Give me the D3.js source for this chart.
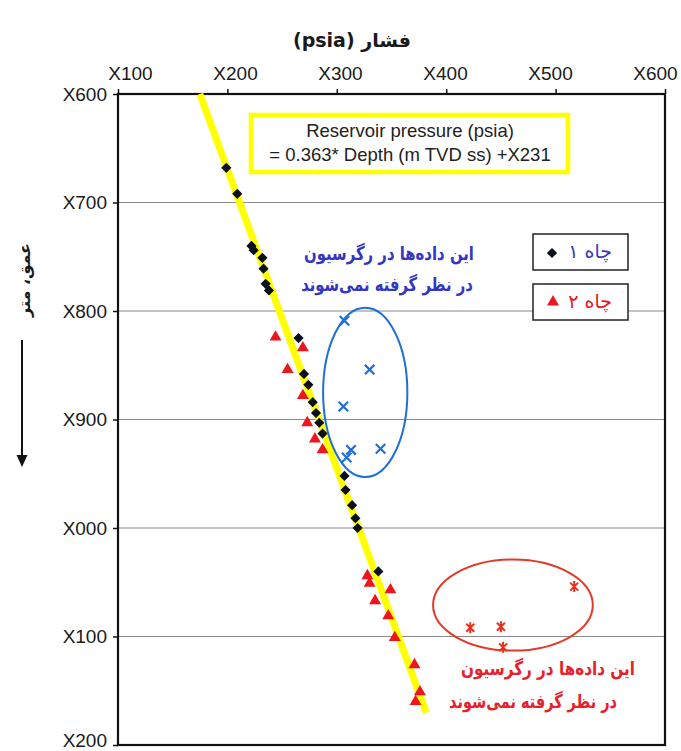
<!DOCTYPE html>
<html>
<head>
<meta charset="utf-8">
<script src="https://cdn.jsdelivr.net/npm/d3@7"></script>
<style>
  html, body { margin: 0; padding: 0; background: #fff; }
  svg { display: block; }
</style>
</head>
<body>
<svg id="chart" width="681" height="751"></svg>
<script>
// Axis ticks: pressure (psia) across the top, depth (m TVD ss) down the side
const pressureTicks = [3100, 3200, 3300, 3400, 3500, 3600];
const depthTicks = [2600, 2700, 2800, 2900, 3000, 3100, 3200];

// Well 1 (black diamonds)
const well1Pressure = [3199, 3209, 3222, 3224, 3232, 3233, 3235, 3238, 3265, 3270, 3274, 3278, 3281, 3284, 3287, 3307, 3308, 3314, 3317, 3319, 3338];
const well1Depth    = [2668, 2692, 2740, 2744, 2751, 2761, 2775, 2781, 2825, 2858, 2868, 2884, 2894, 2903, 2913, 2952, 2965, 2979, 2991, 3000, 3040];

// Well 2 (red triangles)
const well2Pressure = [3244, 3269, 3255, 3269, 3273, 3280, 3287, 3328, 3330, 3349, 3335, 3347, 3353, 3371, 3376, 3372];
const well2Depth    = [2824, 2834, 2854, 2878, 2903, 2918, 2928, 3044, 3051, 3057, 3067, 3081, 3101, 3126, 3151, 3160];

// Points left out of the regression
const outlier1Pressure = [3307, 3330, 3306, 3313, 3340, 3309];
const outlier1Depth    = [2809, 2854, 2888, 2928, 2927, 2935];
const outlier2Pressure = [3517, 3422, 3450, 3452];
const outlier2Depth    = [3054, 3092, 3091, 3110];

// Regression: pressure = 0.363 * depth + 2231
const slope = 0.363;
const intercept = 2231;
const fitDepthRange = [2600, 3170];

// Ellipses around the excluded groups: [centre pressure, centre depth, half-width psi, half-height m]
const ellipse1 = [3326, 2875, 38.5, 78];
const ellipse2 = [3461, 3071, 73, 42];

const fmt = v => "X" + String(v % 1000).padStart(3, "0");

const svg = d3.select("#chart");
const L = 118, R = 665, T = 94, B = 745;

const x = d3.scaleLinear().domain([3100, 3600]).range([L, R]);
const y = d3.scaleLinear().domain([2600, 3200]).range([T, B]);

// Horizontal grid lines
svg.append("g")
  .selectAll("line")
  .data(depthTicks.slice(1, -1))
  .join("line")
  .attr("x1", L).attr("x2", R)
  .attr("y1", d => y(d)).attr("y2", d => y(d))
  .attr("stroke", "#8a8a8a").attr("stroke-width", 1.2);

// Axes
const tickFont = "'Liberation Sans', Arial, sans-serif";
const topAxis = d3.axisTop(x).tickValues(pressureTicks).tickFormat(fmt).tickSize(5).tickPadding(9);
const gTop = svg.append("g").attr("transform", `translate(0,${T})`).call(topAxis);
const leftAxis = d3.axisLeft(y).tickValues(depthTicks).tickFormat(fmt).tickSize(5).tickPadding(6);
const gLeft = svg.append("g").attr("transform", `translate(${L},0)`).call(leftAxis);
[gTop, gLeft].forEach(g => {
  g.select(".domain").remove();
  g.selectAll(".tick line").attr("stroke", "#111").attr("stroke-width", 1.5);
  g.selectAll(".tick text")
    .attr("fill", "#1a1a1a")
    .style("font-family", tickFont)
    .style("font-size", "19px");
});
// top labels sit slightly inward from the frame corners
gTop.selectAll(".tick text").attr("dx", (d, i) => 12 - i * 4.4);
gLeft.selectAll(".tick text").attr("dy", (d, i, n) => i === n.length - 1 ? "0.1em" : "0.34em");

// Plot frame
svg.append("rect")
  .attr("x", L).attr("y", T).attr("width", R - L).attr("height", B - T)
  .attr("fill", "none").attr("stroke", "#111").attr("stroke-width", 2.2);

// Regression line
svg.append("line")
  .attr("x1", x(slope * fitDepthRange[0] + intercept)).attr("y1", y(fitDepthRange[0]))
  .attr("x2", x(slope * fitDepthRange[1] + intercept)).attr("y2", y(fitDepthRange[1]))
  .attr("stroke", "#ffff00").attr("stroke-width", 7).attr("stroke-linecap", "butt");

// Equation box
const eq = svg.append("g");
eq.append("rect")
  .attr("x", 251).attr("y", 115).attr("width", 317).attr("height", 57)
  .attr("fill", "#fff").attr("stroke", "#ffff00").attr("stroke-width", 4.5);
eq.append("text").attr("x", 410).attr("y", 137).attr("text-anchor", "middle")
  .style("font-family", tickFont).style("font-size", "18.5px").attr("fill", "#222")
  .text("Reservoir pressure (psia)");
eq.append("text").attr("x", 410).attr("y", 161).attr("text-anchor", "middle")
  .style("font-family", tickFont).style("font-size", "18.5px").attr("fill", "#222")
  .text("= 0.363* Depth (m TVD ss) +" + fmt(intercept));

// Markers
const diamond = d3.symbol().type(d3.symbolSquare).size(52);
svg.append("g").selectAll("path")
  .data(d3.zip(well1Pressure, well1Depth))
  .join("path")
  .attr("d", diamond)
  .attr("transform", d => `translate(${x(d[0])},${y(d[1])}) rotate(45)`)
  .attr("fill", "#0a0f1e");

const tri = d3.symbol().type(d3.symbolTriangle).size(62);
svg.append("g").selectAll("path")
  .data(d3.zip(well2Pressure, well2Depth))
  .join("path")
  .attr("d", tri)
  .attr("transform", d => `translate(${x(d[0])},${y(d[1])})`)
  .attr("fill", "#f0141c");

// Excluded points: crosses (well 1) and starred crosses (well 2)
svg.append("g").selectAll("path")
  .data(d3.zip(outlier1Pressure, outlier1Depth))
  .join("path")
  .attr("d", d3.symbol().type(d3.symbolTimes).size(60))
  .attr("transform", d => `translate(${x(d[0])},${y(d[1])})`)
  .attr("fill", "none").attr("stroke", "#1f6fd8").attr("stroke-width", 2.2);

svg.append("g").selectAll("path")
  .data(d3.zip(outlier2Pressure, outlier2Depth))
  .join("path")
  .attr("transform", d => `translate(${x(d[0])},${y(d[1])})`)
  .attr("d", "M-4,-4L4,4M-4,4L4,-4M0,-5.5L0,5.5")
  .attr("fill", "none").attr("stroke", "#e8301c").attr("stroke-width", 2);

// Ellipses
function ellipse(e, colour) {
  svg.append("ellipse")
    .attr("cx", x(e[0])).attr("cy", y(e[1]))
    .attr("rx", x(e[0] + e[2]) - x(e[0])).attr("ry", y(e[1] + e[3]) - y(e[1]))
    .attr("fill", "none").attr("stroke", colour).attr("stroke-width", 2);
}
ellipse(ellipse1, "#1e6fd6");
ellipse(ellipse2, "#e23a28");

// Notes (Persian): tall bold glyphs, squeezed horizontally to a set width
const faFont = "'DejaVu Sans', 'Noto Sans', sans-serif";
function note(txt, cx, cy, colour, width) {
  const g = svg.append("g").attr("transform", `translate(${cx},${cy})`);
  const t = g.append("text").attr("text-anchor", "middle")
    .attr("dominant-baseline", "central")
    .style("font-family", faFont).style("font-weight", "bold").style("font-size", "19px")
    .attr("fill", colour).text(txt);
  const w = t.node().getComputedTextLength();
  if (w > 0) t.attr("transform", `scale(${(width / w).toFixed(3)},1)`);
  return g;
}
const line1 = "این داده‌ها در رگرسیون";
const line2 = "در نظر گرفته نمی‌شوند";
note(line1, 389, 253, "#3535c4", 170);
note(line2, 387, 284, "#3535c4", 172);
note(line1, 548, 668, "#e8202a", 174);
note(line2, 533, 701, "#e8202a", 168);

// Legend
const legend = [
  { label: "چاه ۱", y: 234, colour: "#3838b8", sym: "diamond" },
  { label: "چاه ۲", y: 284, colour: "#e8141c", sym: "triangle" }
];
legend.forEach(d => {
  const g = svg.append("g");
  g.append("rect").attr("x", 533).attr("y", d.y).attr("width", 95).attr("height", 36)
    .attr("fill", "#fff").attr("stroke", "#222").attr("stroke-width", 1.5);
  if (d.sym === "diamond") {
    g.append("path").attr("d", diamond).attr("transform", `translate(552,${d.y + 19}) rotate(45)`).attr("fill", "#0a0f1e");
  } else {
    g.append("path").attr("d", tri).attr("transform", `translate(553,${d.y + 18})`).attr("fill", "#f0141c");
  }
  g.append("text").attr("x", 612).attr("y", d.y + 17).attr("text-anchor", "end")
    .attr("dominant-baseline", "central")
    .style("font-family", faFont).style("font-size", "19px")
    .attr("fill", d.colour).text(d.label);
});

// Axis titles
svg.append("text").attr("x", 352).attr("y", 40).attr("text-anchor", "middle")
  .attr("dominant-baseline", "central")
  .style("font-family", faFont).style("font-weight", "bold").style("font-size", "19px")
  .attr("fill", "#1a1a1a").text("(psia) فشار");

svg.append("text").attr("transform", "translate(24,280) rotate(-90)")
  .attr("text-anchor", "middle").attr("dominant-baseline", "central")
  .style("font-family", faFont).style("font-weight", "bold").style("font-size", "16px")
  .attr("fill", "#1a1a1a").text("عمق، متر");

// Downward arrow under the depth title
svg.append("line").attr("x1", 22).attr("y1", 340).attr("x2", 22).attr("y2", 460)
  .attr("stroke", "#111").attr("stroke-width", 2);
svg.append("path").attr("d", "M16.5,455L22,467L27.5,455Z").attr("fill", "#111");
</script>
</body>
</html>
